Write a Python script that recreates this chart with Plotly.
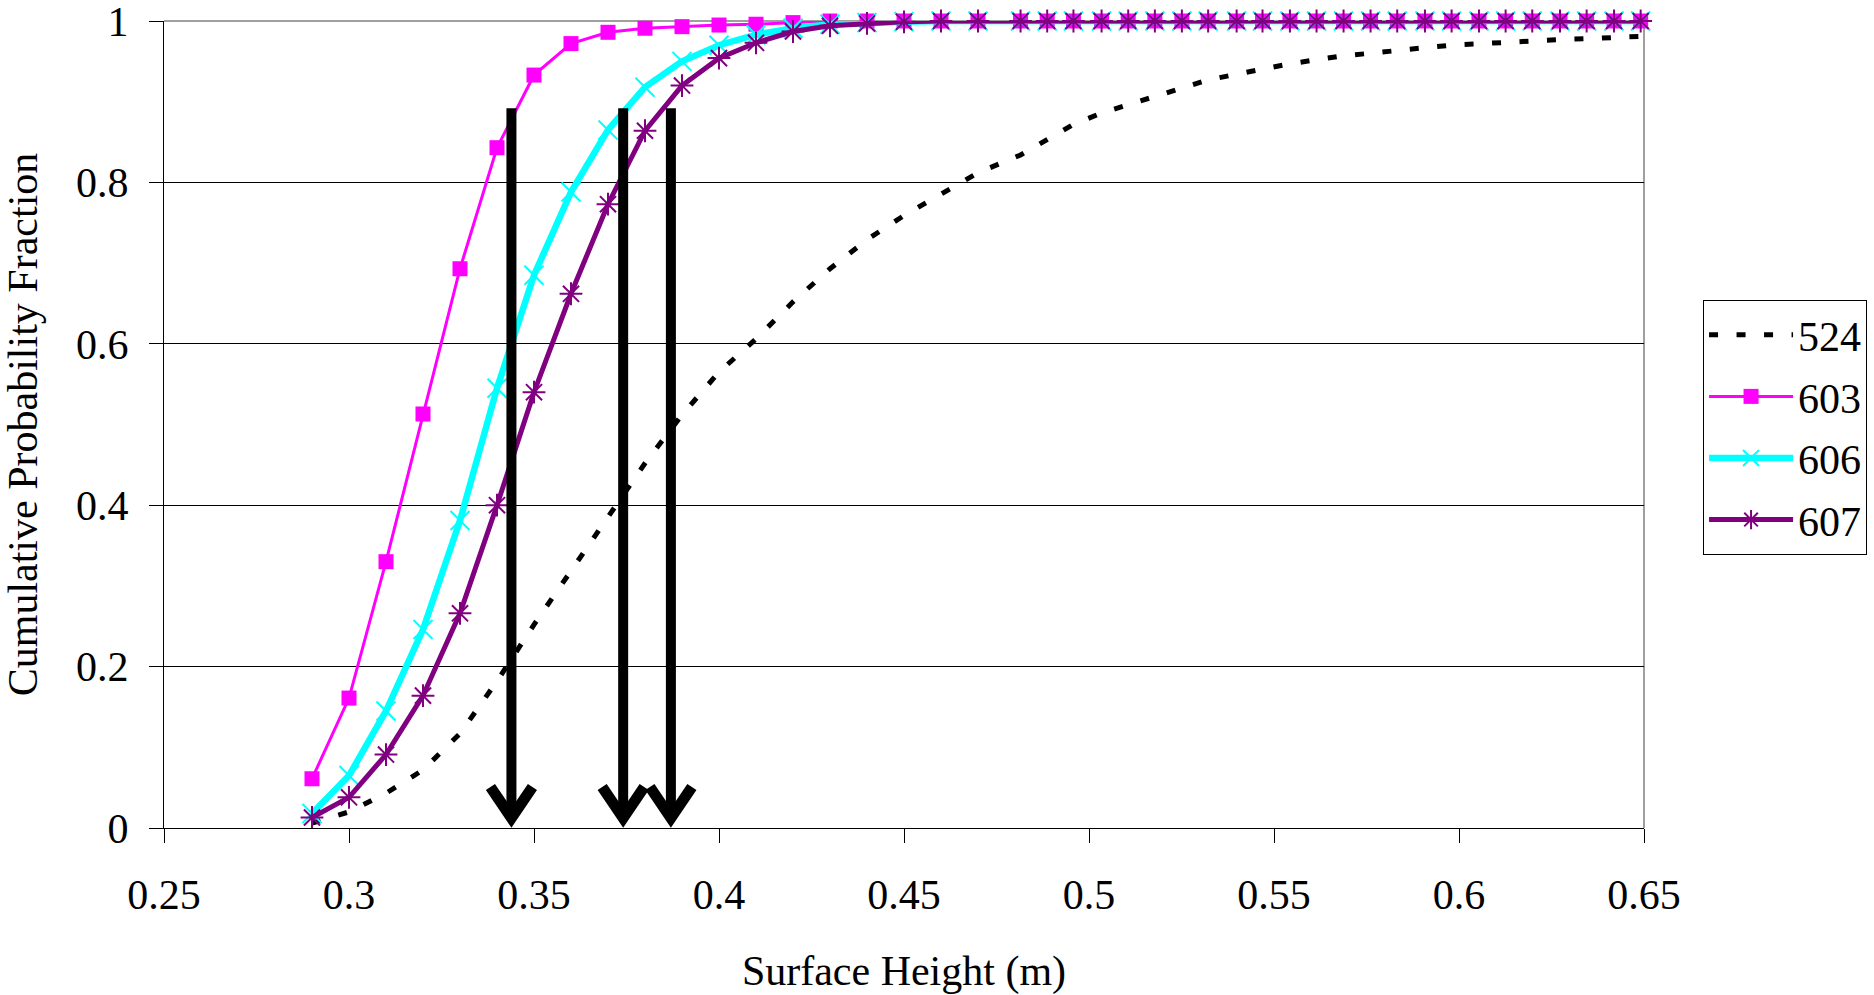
import plotly.graph_objects as go

# Surface height bins (m)
height_m = [0.29, 0.30, 0.31, 0.32, 0.33, 0.34, 0.35, 0.36, 0.37, 0.38,
            0.39, 0.40, 0.41, 0.42, 0.43, 0.44, 0.45, 0.46, 0.47,
            0.4815, 0.4887, 0.4958, 0.5034, 0.5106, 0.5178, 0.5251, 0.5322,
            0.5399, 0.5469, 0.5543, 0.5615, 0.5688, 0.5761, 0.5833, 0.5908,
            0.5980, 0.6054, 0.6126, 0.6198, 0.6273, 0.6345, 0.6419, 0.6491]

# Cumulative probability fraction per run
cum_524 = [0.006, 0.020, 0.043, 0.072, 0.117, 0.182, 0.252, 0.318, 0.384, 0.452,
           0.512, 0.565, 0.606, 0.652, 0.693, 0.729, 0.759, 0.785, 0.812,
           0.834, 0.853, 0.872, 0.886, 0.896, 0.907, 0.917, 0.927,
           0.934, 0.941, 0.947, 0.952, 0.957, 0.960, 0.964, 0.967,
           0.970, 0.972, 0.973, 0.975, 0.977, 0.978, 0.980, 0.981]
cum_603 = [0.061, 0.161, 0.330, 0.513, 0.693, 0.843, 0.933, 0.972, 0.986, 0.991,
           0.993, 0.995, 0.996, 0.998, 1.0, 1.0, 1.0, 1.0, 1.0,
           1.0, 1.0, 1.0, 1.0, 1.0, 1.0, 1.0, 1.0,
           1.0, 1.0, 1.0, 1.0, 1.0, 1.0, 1.0, 1.0,
           1.0, 1.0, 1.0, 1.0, 1.0, 1.0, 1.0, 1.0]
cum_606 = [0.018, 0.065, 0.145, 0.246, 0.381, 0.545, 0.685, 0.788, 0.865, 0.918,
           0.950, 0.970, 0.983, 0.991, 0.996, 0.998, 0.999, 1.0, 1.0,
           1.0, 1.0, 1.0, 1.0, 1.0, 1.0, 1.0, 1.0,
           1.0, 1.0, 1.0, 1.0, 1.0, 1.0, 1.0, 1.0,
           1.0, 1.0, 1.0, 1.0, 1.0, 1.0, 1.0, 1.0]
cum_607 = [0.013, 0.038, 0.091, 0.164, 0.266, 0.400, 0.540, 0.662, 0.773, 0.864,
           0.920, 0.954, 0.973, 0.987, 0.994, 0.997, 0.999, 1.0, 1.0,
           1.0, 1.0, 1.0, 1.0, 1.0, 1.0, 1.0, 1.0,
           1.0, 1.0, 1.0, 1.0, 1.0, 1.0, 1.0, 1.0,
           1.0, 1.0, 1.0, 1.0, 1.0, 1.0, 1.0, 1.0]

x_ticks = [0.25, 0.30, 0.35, 0.40, 0.45, 0.50, 0.55, 0.60, 0.65]
x_tick_text = ["0.25", "0.3", "0.35", "0.4", "0.45", "0.5", "0.55", "0.6", "0.65"]
y_ticks = [0, 0.2, 0.4, 0.6, 0.8, 1]
y_tick_text = ["0", "0.2", "0.4", "0.6", "0.8", "1"]

# Marked surface heights (downward arrows) and the level they start from
arrow_x = [0.3439, 0.3741, 0.3870]
arrow_top = 0.892

FONT = "Liberation Serif"

fig = go.Figure()

fig.add_trace(go.Scatter(
    x=height_m, y=cum_524, name="524", mode="lines", legendgroup="a",
    line=dict(color="black", width=5, dash="9px,18.5px"),
))
fig.add_trace(go.Scatter(
    x=height_m, y=cum_603, name="603", mode="lines+markers", legendgroup="b",
    line=dict(color="#FF00FF", width=3),
    marker=dict(symbol="square", size=15, color="#FF00FF", line=dict(width=0)),
    cliponaxis=False,
))
fig.add_trace(go.Scatter(
    x=height_m, y=cum_606, name="606", mode="lines+markers", legendgroup="c",
    line=dict(color="#00FFFF", width=6.5),
    marker=dict(symbol="x-thin-open", size=19, color="#00FFFF",
                line=dict(width=2, color="#00FFFF")),
    cliponaxis=False,
))
fig.add_trace(go.Scatter(
    x=height_m, y=cum_607, name="607", mode="lines+markers", legendgroup="d",
    line=dict(color="#800080", width=5),
    marker=dict(symbol="asterisk-open", size=19, color="#800080",
                line=dict(width=2, color="#800080")),
    cliponaxis=False,
))

shapes = [
    # grey plot-area frame on the top and right sides
    dict(type="path", xref="paper", yref="paper", path="M0,1 L1,1 L1,0",
         line=dict(color="#808080", width=1.5), layer="between"),
]
for ax_ in arrow_x:
    shapes.append(dict(type="line", xref="x", yref="y", x0=ax_, x1=ax_,
                       y0=arrow_top, y1=0.016,
                       line=dict(color="black", width=10), layer="above"))
    shapes.append(dict(type="path", xref="x", yref="y",
                       xsizemode="pixel", ysizemode="pixel",
                       xanchor=ax_, yanchor=0,
                       path="M-21,41 L0,10 L21,41",
                       line=dict(color="black", width=11), layer="above"))

fig.update_layout(
    width=1874, height=995,
    margin=dict(l=164, r=230, t=21, b=167, autoexpand=False),
    paper_bgcolor="white", plot_bgcolor="white",
    font=dict(family=FONT, size=42, color="black"),
    shapes=shapes,
    showlegend=True,
    legend=dict(
        x=1.0399, y=0.6543, xanchor="left", yanchor="top",
        bordercolor="black", borderwidth=1, bgcolor="white",
        font=dict(family=FONT, size=42, color="black"),
        itemwidth=84, tracegroupgap=4, traceorder="grouped",
    ),
    xaxis=dict(
        range=[0.25, 0.65], tickvals=x_ticks, ticktext=x_tick_text,
        ticks="outside", ticklen=14, tickwidth=1, tickcolor="black",
        showline=True, linecolor="black", linewidth=1,
        showgrid=False, zeroline=False, ticklabelstandoff=16,
        ticklabeloverflow="allow",
        title=dict(text="Surface Height (m)", standoff=42,
                   font=dict(family=FONT, size=42)),
    ),
    yaxis=dict(
        range=[0, 1], tickvals=y_ticks, ticktext=y_tick_text,
        ticks="outside", ticklen=14, tickwidth=1, tickcolor="black",
        showline=True, linecolor="black", linewidth=1,
        showgrid=True, gridcolor="black", gridwidth=1,
        zeroline=False, ticklabelstandoff=12, ticklabeloverflow="allow",
        title=dict(text="Cumulative Probability Fraction", standoff=36,
                   font=dict(family=FONT, size=42)),
    ),
)

fig.write_html("out.html")
